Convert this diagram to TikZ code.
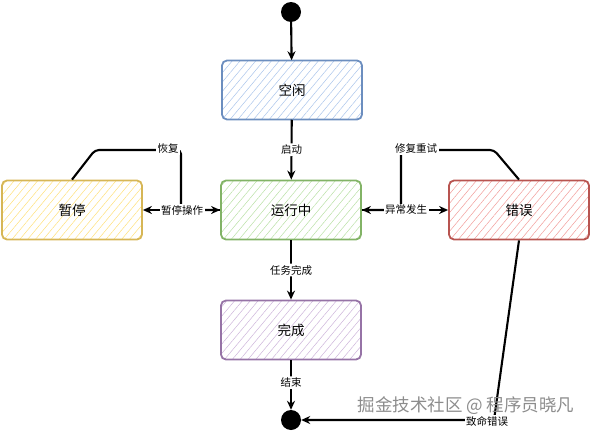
\documentclass[tikz,border=0pt]{standalone}
\usepackage{fontspec}
\setmainfont{Noto Sans CJK SC}
\usetikzlibrary{arrows.meta,patterns.meta}
\definecolor{bB}{HTML}{6C8EBF}\definecolor{bF}{HTML}{A9C4EB}
\definecolor{gB}{HTML}{82B366}\definecolor{gF}{HTML}{B9E0A5}
\definecolor{yB}{HTML}{D6B656}\definecolor{yF}{HTML}{FFE07A}
\definecolor{rB}{HTML}{B85450}\definecolor{rF}{HTML}{F19C99}
\definecolor{pB}{HTML}{9673A6}\definecolor{pF}{HTML}{CDB4DA}
\tikzset{
  statebox/.style={draw=#1B, rounded corners=5pt, line width=1.8pt,
    minimum width=140pt, minimum height=59pt,
    pattern={Lines[angle=50,distance=6pt,line width=0.5pt]}, pattern color=#1F,
    font=\fontsize{13.5}{13.5}\selectfont},
  dot/.style={circle, fill=black, inner sep=0pt, minimum size=20pt},
  edge/.style={line width=2.1pt, rounded corners=4pt, -{Stealth[length=9pt,width=8pt]}},
  lbl/.style={fill=white, inner sep=1.5pt, font=\fontsize{10.5}{10.5}\selectfont},
}
\begin{document}
\begin{tikzpicture}[x=1pt,y=-1pt]
\useasboundingbox (0,0) rectangle (592,431);
\node[dot] (start) at (291,12) {};
\node[dot] (end) at (291,420) {};
\node[statebox=b] (idle) at (292,90) {空闲};
\node[statebox=g] (run) at (291,210) {运行中};
\node[statebox=y] (pause) at (72,210) {暂停};
\node[statebox=r] (err) at (519,210) {错误};
\node[statebox=p] (done) at (291,330) {完成};
\coordinate (r1) at (95,150);
\coordinate (r2) at (181,150);
\coordinate (r3) at (181,210);
\coordinate (f1) at (494,150);
\coordinate (f2) at (401,150);
\coordinate (f3) at (401,210);
\coordinate (e1) at (494,420);

\draw[edge] (start) -- (idle);
\draw[edge] (idle) -- node[lbl] {启动} (run);
\draw[edge] (run) -- node[lbl] {任务完成} (done);
\draw[edge] (done) -- node[lbl,pos=0.45] {结束} (end);
\draw[edge] (run.west) -- (pause.east);
\draw[edge] (pause.north) -- (r1) -- (r2) -- (r3) -- (run.west);
\draw[edge] (run.east) -- (err.west);
\draw[edge] (err.north) -- (f1) -- (f2) -- (f3) -- (run.east);
\draw[edge] (err.south) -- (e1) -- (end);
\node[lbl] at (168,149) {恢复};
\node[lbl] at (182,210) {暂停操作};
\node[lbl] at (416,149) {修复重试};
\node[lbl] at (406,210) {异常发生};
\node[lbl] at (487,421) {致命错误};
\node[text=black!45, font=\fontsize{17.5}{17.5}\selectfont] at (466,406) {掘金技术社区 @ 程序员晓凡};
\end{tikzpicture}
\end{document}
